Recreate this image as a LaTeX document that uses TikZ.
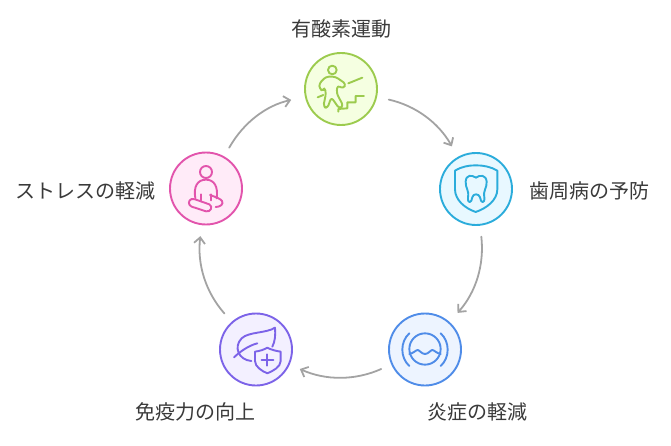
\documentclass[tikz,border=0pt]{standalone}
\usepackage{fontspec}
\setmainfont{Noto Sans CJK JP}
\usetikzlibrary{arrows.meta}
\definecolor{cgreenS}{HTML}{9CCB4E}\definecolor{cgreenF}{HTML}{F5FFE1}
\definecolor{ctealS}{HTML}{2BACDB}\definecolor{ctealF}{HTML}{E8F8FF}
\definecolor{cblueS}{HTML}{4F8CE8}\definecolor{cblueF}{HTML}{EDF4FF}
\definecolor{cpurpS}{HTML}{7C63E8}\definecolor{cpurpF}{HTML}{F3F0FF}
\definecolor{cpinkS}{HTML}{E254AC}\definecolor{cpinkF}{HTML}{FFEBF8}
\definecolor{ctext}{HTML}{3A3A3A}\definecolor{carrow}{HTML}{A3A3A3}
\tikzset{
  disc/.style={circle,draw=#1S,fill=#1F,line width=1.9pt,minimum size=72pt,inner sep=0pt},
  lab/.style={text=ctext,font=\fontsize{20}{22}\selectfont,inner sep=0pt},
  link/.style={draw=carrow,line width=1.8pt,-{Straight Barb[length=6pt,width=11pt,line width=1.8pt]},line cap=round},
  icon/.style={line width=1.9pt,line cap=round,line join=round},
}
\begin{document}
\begin{tikzpicture}[x=1pt,y=-1pt]
\useasboundingbox (0,0) rectangle (671,446);
\node[disc=cgreen] (green) at (341,89) {};
\node[disc=cteal] (tooth) at (476,189) {};
\node[disc=cblue] (blue) at (425,349.5) {};
\node[disc=cpurp] (purple) at (256,349.5) {};
\node[disc=cpink] (pink) at (206,188.5) {};
\node[lab] (t1) at (341,29) {有酸素運動};
\node[lab] (t2) at (589,191) {歯周病の予防};
\node[lab] (t3) at (477.5,412) {炎症の軽減};
\node[lab] (t4) at (195,412) {免疫力の向上};
\node[lab] (t5) at (85,191) {ストレスの軽減};
\draw[link,shorten <=10pt,shorten >=14pt] (pink) to[bend left=24] (green);
\draw[link,shorten <=12pt,shorten >=12pt] (green) to[bend left=24] (tooth);
\draw[link,shorten <=11pt,shorten >=12pt] (tooth) to[bend left=24] (blue);
\draw[link,shorten <=11pt,shorten >=11pt] (blue) to[bend left=24] (purple);
\draw[link,shorten <=11pt,shorten >=11pt] (purple) to[bend left=24] (pink);
% stair climber
\begin{scope}[shift={(290,40)},x=0.3333pt,y=-0.3333pt,icon,draw=cgreenS]
\draw (127,90) circle[radius=13];
\draw[rounded corners=3pt] (88,130) -- (108,110) -- (136,110) -- (168,132) -- (160,146) -- (142,136) -- (140,160) -- (160,198) -- (148,206) -- (124,172) -- (112,205) -- (100,200) -- (108,160) -- (104,142) -- (100,154) -- (88,146) -- cycle;
\draw (175,130) -- (217,113);
\draw (83,172) -- (100,165);
\draw (145,215) -- (145,207) -- (172,205) -- (172,187) -- (197,187) -- (197,168) -- (222,168);
\end{scope}
% tooth shield
\begin{scope}[shift={(430,140)},x=0.3333pt,y=-0.3333pt,icon,draw=ctealS]
\draw (75,92) .. controls (95,80) and (115,76) .. (137,76) .. controls (160,76) and (182,80) .. (202,92) -- (202,148) .. controls (202,180) and (170,205) .. (137,216) .. controls (105,205) and (75,180) .. (75,148) -- cycle;
\draw (138,113) .. controls (125,104) and (108,104) .. (107,125) .. controls (106,145) and (118,150) .. (114,172) .. controls (112,192) and (125,190) .. (127,172) .. controls (129,160) and (147,160) .. (150,172) .. controls (152,190) and (165,192) .. (163,172) .. controls (159,150) and (171,145) .. (170,125) .. controls (168,104) and (150,104) .. (138,113) -- cycle;
\end{scope}
% waves
\begin{scope}[shift={(380,305)},x=0.3333pt,y=-0.3333pt,icon,draw=cblueS]
\draw (135,132) circle[radius=47];
\draw (88,147) .. controls (100,145) and (108,135) .. (113,135) .. controls (118,135) and (125,147) .. (135,147) .. controls (145,147) and (152,135) .. (157,135) .. controls (162,135) and (170,145) .. (182,147);
\draw (88,85) .. controls (60,110) and (60,158) .. (88,183);
\draw (182,85) .. controls (210,110) and (210,158) .. (182,183);
\end{scope}
% leaf shield
\begin{scope}[shift={(210,305)},x=0.3333pt,y=-0.3333pt,icon,draw=cpurpS]
\draw (72,157) .. controls (90,140) and (115,122) .. (142,115);
\draw (124,168) .. controls (85,165) and (70,125) .. (95,100) .. controls (115,80) and (170,85) .. (195,68) .. controls (197,90) and (195,110) .. (187,125);
\draw (135,140) .. controls (150,138) and (162,134) .. (172,128) .. controls (182,134) and (198,138) .. (212,140) -- (212,168) .. controls (212,185) and (190,198) .. (172,205) .. controls (155,198) and (135,185) .. (135,168) -- cycle;
\draw (172,148) -- (172,182);
\draw (155,165) -- (190,165);
\end{scope}
% meditating person
\begin{scope}[shift={(160,145)},x=0.3333pt,y=-0.3333pt,icon,draw=cpinkS]
\draw (138,81) circle[radius=18];
\draw (106,160) .. controls (100,125) and (112,104) .. (138,104) .. controls (163,104) and (175,125) .. (170,160);
\draw (122,148) -- (122,166);
\draw (153,148) -- (153,166);
\draw (95,162) .. controls (85,165) and (83,180) .. (95,185) -- (138,199) .. controls (152,202) and (160,185) .. (148,178) -- (105,163) .. controls (102,162) and (98,161) .. (95,162) -- cycle;
\draw (167,186) .. controls (180,186) and (192,178) .. (186,168) .. controls (182,162) and (172,158) .. (150,150);
\end{scope}
\end{tikzpicture}
\end{document}
